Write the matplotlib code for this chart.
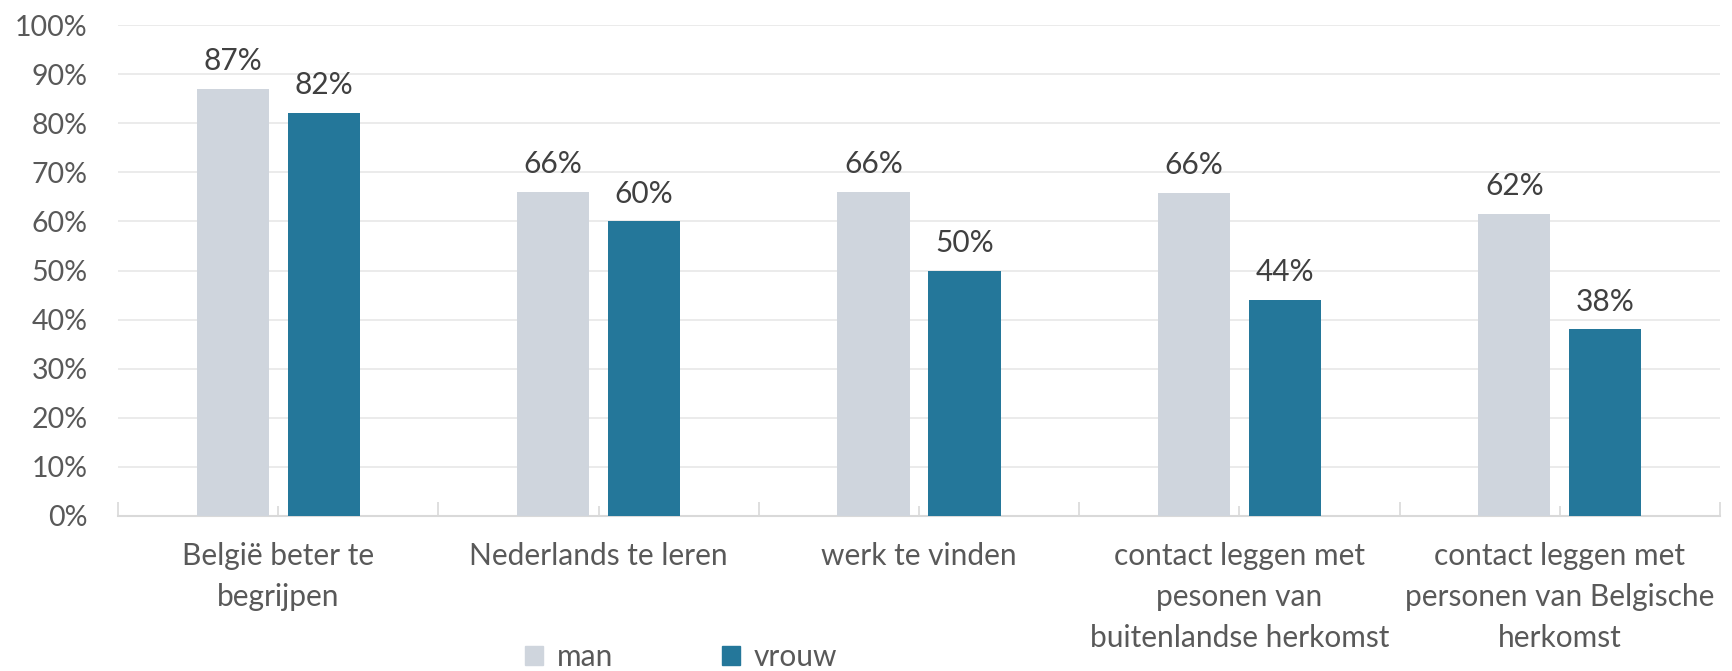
import matplotlib
matplotlib.use("Agg")
import matplotlib.pyplot as plt
import numpy as np
from matplotlib.patches import Patch

categories = ["België beter te\nbegrijpen", "Nederlands te leren", "werk te vinden",
              "contact leggen met\npesonen van\nbuitenlandse herkomst",
              "contact leggen met\npersonen van Belgische\nherkomst"]
man = [87, 66, 66, 65.8, 61.6]
vrouw = [82, 60, 50, 44, 38]
yticks = [0, 10, 20, 30, 40, 50, 60, 70, 80, 90, 100]

c_man = "#cfd5dd"
c_vrouw = "#24779a"
txt = "#595959"
plt.rcParams['font.family'] = ['Lato', 'DejaVu Sans']

fig = plt.figure(figsize=(17.33, 6.71), dpi=100)
ax = fig.add_axes([118/1733, 1-516/671, (1720-118)/1733, (516-25)/671])

x = np.arange(len(categories))
w = 0.225
off = 0.142
b1 = ax.bar(x - off, man, w, color=c_man, zorder=3)
b2 = ax.bar(x + off, vrouw, w, color=c_vrouw, zorder=3)
for bars, vals in ((b1, man), (b2, vrouw)):
    for r, v in zip(bars, vals):
        ax.annotate(f"{v:.0f}%", (r.get_x() + r.get_width()/2, v), xytext=(0, 10),
                    textcoords="offset points", ha="center", va="bottom",
                    fontsize=21.5, color="#404040")

ax.set_xlim(-0.5, len(categories) - 0.5)
ax.set_ylim(0, 100)
ax.set_yticks(yticks)
ax.set_yticklabels([f"{t}%" for t in yticks], fontsize=20.5, color=txt)
ax.tick_params(axis='y', length=0, pad=22)
ax.yaxis.grid(True, color="#e8e8e8", linewidth=1.2, zorder=0)
ax.set_xticks(x)
ax.set_xticklabels(categories, fontsize=21.5, color=txt, linespacing=1.55, va='top')
ax.set_xticks(np.arange(-0.5, len(categories)), minor=True)
ax.tick_params(axis='x', which='major', direction='in', length=7, color="#d9d9d9", width=1.2, pad=19)
ax.tick_params(axis='x', which='minor', direction='in', length=10, color="#d9d9d9", width=1.2)
for s in ("top", "right", "left"):
    ax.spines[s].set_visible(False)
ax.spines["bottom"].set_color("#d9d9d9")
ax.spines["bottom"].set_linewidth(1.5)

handles = [Patch(color=c_man, label="man"), Patch(color=c_vrouw, label="vrouw")]
fig.legend(handles=handles, loc="center", bbox_to_anchor=(681/1733, 1-657/671), ncol=2,
           frameon=False, fontsize=21.5, handlelength=0.6, handleheight=0.6,
           handletextpad=0.45, columnspacing=3.65, labelcolor=txt, borderpad=0)

fig.savefig("out.png", dpi=100)
